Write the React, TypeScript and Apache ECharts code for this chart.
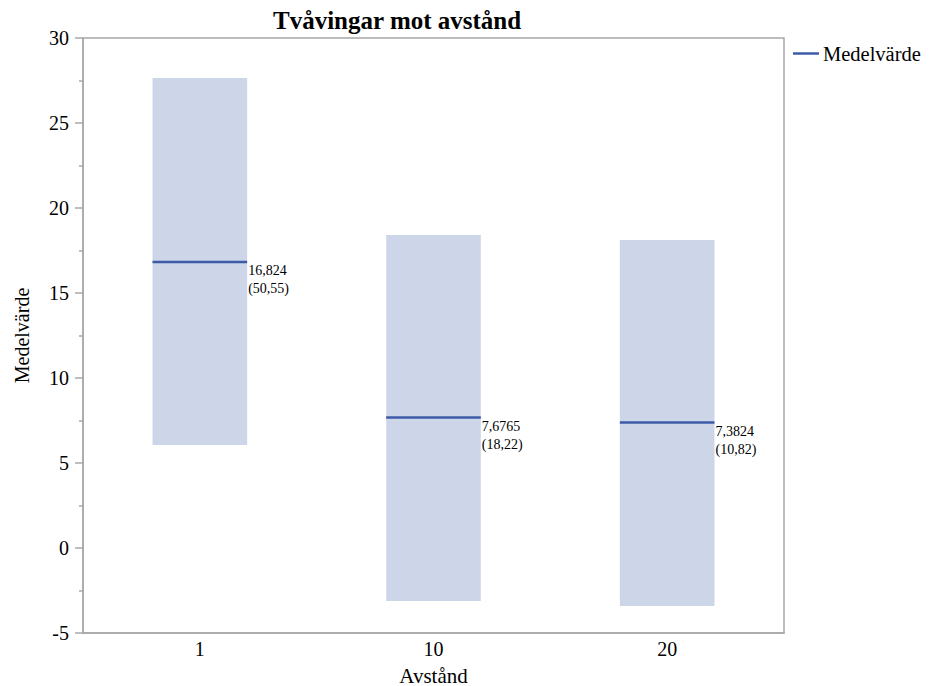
import React, { useEffect, useRef } from "react";
import * as echarts from "echarts";

// Distance groups and the mean value per group, with its interval bounds
const categories = ["1", "10", "20"];
const means = [16.824, 7.6765, 7.3824];
const lowerBounds = [6.06, -3.12, -3.41];
const upperBounds = [27.65, 18.41, 18.12];
const counts = ["(50,55)", "(18,22)", "(10,82)"];
const meanLabels = ["16,824", "7,6765", "7,3824"];
const yTicks = [-5, 0, 5, 10, 15, 20, 25, 30];

const SERIF = "'Liberation Serif', 'Times New Roman', serif";
const AXIS_GREY = "#a8a8a8";
const BAND_FILL = "#cdd6e9";
const MEAN_BLUE = "#3d5aa8";
const BAND_FRACTION = 0.405;

export default function App() {
  const ref = useRef<HTMLDivElement>(null);

  useEffect(() => {
    if (!ref.current) return;
    const chart = echarts.init(ref.current, undefined, { renderer: "svg" });

    const bandData = categories.map((_, i) => [i, lowerBounds[i], upperBounds[i]]);
    const meanData = categories.map((_, i) => [i, means[i]]);

    chart.setOption({
      animation: false,
      backgroundColor: "#ffffff",
      title: {
        text: "Tvåvingar mot avstånd",
        left: 268,
        top: 3,
        textStyle: {
          fontFamily: SERIF,
          fontSize: 25,
          fontWeight: "bold",
          color: "#000000",
        },
      },
      legend: {
        data: [{ name: "Medelvärde", icon: "path://M0,0H25V2.4H0Z" }],
        left: 793,
        top: 43,
        padding: 0,
        itemWidth: 26,
        itemHeight: 3,
        itemGap: 4,
        textStyle: { fontFamily: SERIF, fontSize: 20.5, color: "#000000", padding: [0, 0, 0, -1] },
        selectedMode: false,
      },
      grid: {
        left: 83,
        right: 145,
        top: 38,
        bottom: 53,
        outerBoundsMode: "none",
        show: true,
        borderColor: AXIS_GREY,
        borderWidth: 1.5,
        backgroundColor: "transparent",
      },
      xAxis: {
        type: "category",
        data: categories,
        boundaryGap: true,
        name: "Avstånd",
        nameLocation: "middle",
        nameGap: 32,
        nameTextStyle: { fontFamily: SERIF, fontSize: 21, color: "#000000" },
        axisLine: { onZero: false, lineStyle: { color: AXIS_GREY, width: 1.5 } },
        axisTick: { show: false },
        axisLabel: { fontFamily: SERIF, fontSize: 20, color: "#000000", margin: 6 },
        splitLine: { show: false },
      },
      yAxis: {
        type: "value",
        min: yTicks[0],
        max: yTicks[yTicks.length - 1],
        interval: 5,
        name: "Medelvärde",
        nameLocation: "middle",
        nameGap: 51,
        nameTextStyle: { fontFamily: SERIF, fontSize: 20, color: "#000000" },
        axisLine: { show: true, lineStyle: { color: AXIS_GREY, width: 1.5 } },
        axisTick: { show: true, inside: false, length: 8, lineStyle: { color: AXIS_GREY, width: 1.5 } },
        minorTick: { show: true, splitNumber: 2, length: 4, lineStyle: { color: AXIS_GREY, width: 1.5 } },
        axisLabel: { fontFamily: SERIF, fontSize: 20, color: "#000000", margin: 14 },
        splitLine: { show: false },
      },
      series: [
        {
          name: "Intervall",
          type: "custom",
          data: bandData,
          encode: { x: 0, y: [1, 2] },
          renderItem: (params: any, api: any) => {
            const idx = api.value(0);
            const low = api.coord([idx, api.value(1)]);
            const high = api.coord([idx, api.value(2)]);
            const bandW = api.size([1, 0])[0] * BAND_FRACTION;
            return {
              type: "rect",
              shape: { x: low[0] - bandW / 2, y: high[1], width: bandW, height: low[1] - high[1] },
              style: { fill: BAND_FILL },
              silent: true,
            };
          },
          z: 1,
        },
        {
          name: "Medelvärde",
          type: "custom",
          data: meanData,
          encode: { x: 0, y: 1 },
          itemStyle: { color: MEAN_BLUE },
          renderItem: (params: any, api: any) => {
            const i = params.dataIndex;
            const p = api.coord([api.value(0), api.value(1)]);
            const bandW = api.size([1, 0])[0] * BAND_FRACTION;
            const x0 = p[0] - bandW / 2;
            const x1 = p[0] + bandW / 2;
            return {
              type: "group",
              children: [
                {
                  type: "line",
                  shape: { x1: x0, y1: p[1], x2: x1, y2: p[1] },
                  style: { stroke: MEAN_BLUE, lineWidth: 2.5 },
                },
                {
                  type: "text",
                  x: x1 + 1,
                  y: p[1],
                  style: {
                    text: meanLabels[i] + "\n" + counts[i],
                    fontFamily: SERIF,
                    fontSize: 14,
                    lineHeight: 18,
                    fill: "#000000",
                    align: "left",
                    verticalAlign: "top",
                  },
                },
              ],
            };
          },
          z: 2,
        },
      ],
    });

    return () => chart.dispose();
  }, []);

  return <div ref={ref} style={{ width: 929, height: 686, marginLeft: -8, marginTop: -8 }} />;
}
